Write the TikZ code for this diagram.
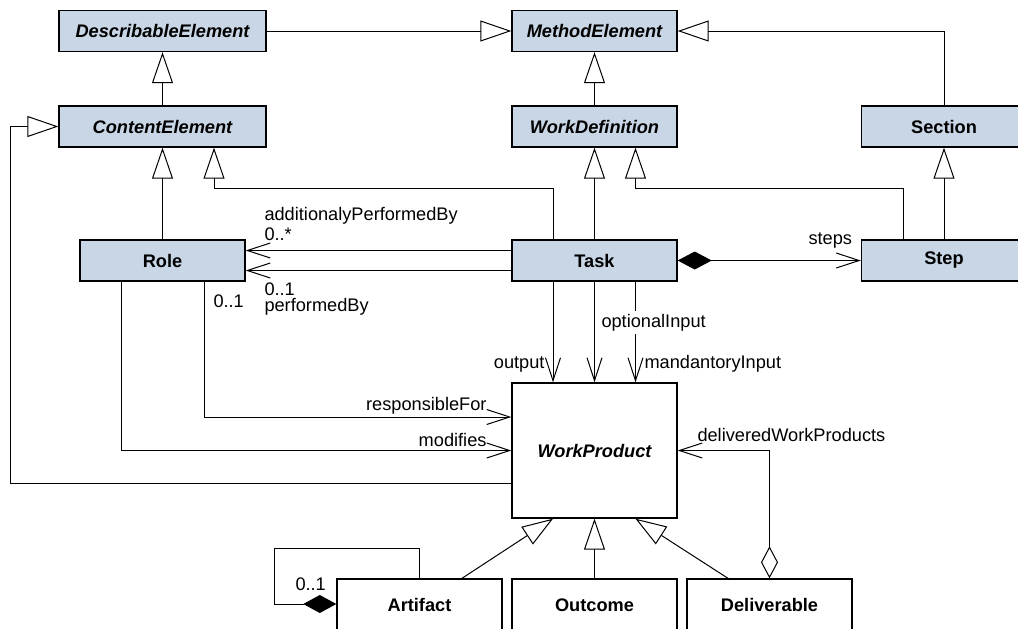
\documentclass[tikz,border=0pt]{standalone}
\usepackage{fontspec}
\setmainfont{Liberation Sans}
\usetikzlibrary{arrows.meta,calc}
\definecolor{clsfill}{RGB}{200,214,229}

\begin{document}
\begin{tikzpicture}[x=0.5pt,y=-0.5pt,line width=0.5pt,
		cls/.style={draw,line width=0.7pt,fill=clsfill,minimum width=82.5pt,minimum height=20.5pt,inner sep=0pt,font=\fontsize{9.1}{11}\selectfont\bfseries},
		abscls/.style={cls,font=\fontsize{9.1}{11}\selectfont\bfseries\itshape},
		wide/.style={minimum width=103.5pt},
		lbl/.style={inner sep=0pt,font=\fontsize{9.1}{11}\selectfont},
		gen/.style={-{Triangle[open,length=15.5pt,width=10.5pt]}},
		nav/.style={-{Straight Barb[length=11.5pt,width=7.5pt]}},
		comp/.style={{Diamond[length=17pt,width=9pt]}-{Straight Barb[length=11.5pt,width=7.5pt]}},
		aggr/.style={{Diamond[open,length=16pt,width=8.5pt]}-{Straight Barb[length=11.5pt,width=7.5pt]}}]
		\path[use as bounding box,clip] (0,0) rectangle (1018,628);
		% classes
		\node[abscls,wide] (DE) at (162.5,31) {DescribableElement};
		\node[abscls] (ME) at (594.5,31) {MethodElement};
		\node[abscls,wide] (CE) at (162.5,126.5) {ContentElement};
		\node[abscls] (WD) at (594.5,126.5) {WorkDefinition};
		\node[cls] (Sec) at (944,126.5) {Section};
		\node[cls] (Role) at (162.5,260.5) {Role};
		\node[cls] (Task) at (594.5,260.5) {Task};
		\node[cls] (Step) at (944,260.5) {Step};
		\node[abscls,fill=white,minimum height=67.5pt] (WP) at (594.5,450.5) {WorkProduct};
		\node[cls,fill=white,minimum height=26pt] (Art) at (419.5,605) {Artifact};
		\node[cls,fill=white,minimum height=26pt] (Out) at (594.5,605) {Outcome};
		\node[cls,fill=white,minimum height=26pt] (Del) at (769.5,605) {Deliverable};
		% generalizations
		\draw[gen] (DE) -- (ME);
		\draw[gen] (Sec.north) |- (ME.east);
		\draw[gen] (CE) -- (DE);
		\draw[gen] (WD) -- (ME);
		\draw[gen] (Step) -- (Sec);
		\draw[gen] (Role) -- (CE);
		\draw[gen] (Task) -- (WD);
		\draw[gen] ($(Task.north)+(-41,0)$) |- ($(CE.south)+(51.5,41)$) -- ($(CE.south)+(51.5,0)$);
		\draw[gen] ($(Step.north)+(-41,0)$) |- ($(WD.south)+(41,41)$) -- ($(WD.south)+(41,0)$);
		\draw[gen] ($(WP.west)+(0,32.5)$) -- ++(-501,0) |- (CE.west);
		\draw[gen] ($(Art.north)+(42.5,0)$) -- ($(WP.south)+(-41.5,0)$);
		\draw[gen] (Out) -- (WP);
		\draw[gen] ($(Del.north)+(-41.5,0)$) -- ($(WP.south)+(41,0)$);
		% associations
		\draw[nav] ($(Task.west)+(0,-10)$) -- ($(Role.east)+(0,-10)$);
		\draw[nav] ($(Task.west)+(0,10)$) -- ($(Role.east)+(0,10)$);
		\draw[comp] (Task) -- (Step);
		\foreach \dx in {-41.5,0,41}
			\draw[nav] ($(Task.south)+(\dx,0)$) -- ($(WP.north)+(\dx,0)$);
		\draw[nav] ($(Role.south)+(41.5,0)$) |- ($(WP.west)+(0,-33.5)$);
		\draw[nav] ($(Role.south)+(-41.5,0)$) |- (WP.west);
		\draw[aggr] (Del.north) |- (WP.east);
		\draw[{Diamond[length=16.5pt,width=9pt]}-] ($(Art.west)+(0,-1)$) -- ++(-62,0) -- ++(0,-56) -| (Art.north);
		% labels
		\node[lbl,anchor=base west] (lAdd) at (264,220) {additionalyPerformedBy};
		\node[lbl,anchor=base west] (lAddM) at (264,240) {0..*};
		\node[lbl,anchor=base west] (lPerfM) at (264,295) {0..1};
		\node[lbl,anchor=base west] (lPerf) at (264,311) {performedBy};
		\node[lbl,anchor=base west] (lRespM) at (213,307) {0..1};
		\node[lbl,anchor=base west] (lSteps) at (808,244) {steps};
		\node[lbl,anchor=base west,fill=white,inner ysep=1.5pt] (lOpt) at (601,327) {optionalInput};
		\node[lbl,anchor=base east] (lOut) at (545,368) {output};
		\node[lbl,anchor=base west] (lMand) at (644,368) {mandantoryInput};
		\node[lbl,anchor=base east] (lResp) at (487,410) {responsibleFor};
		\node[lbl,anchor=base east] (lMod) at (487,446) {modifies};
		\node[lbl,anchor=base west] (lDel) at (697,441) {deliveredWorkProducts};
		\node[lbl,anchor=base west] (lArtM) at (295,590) {0..1};
	\end{tikzpicture}
\end{document}
